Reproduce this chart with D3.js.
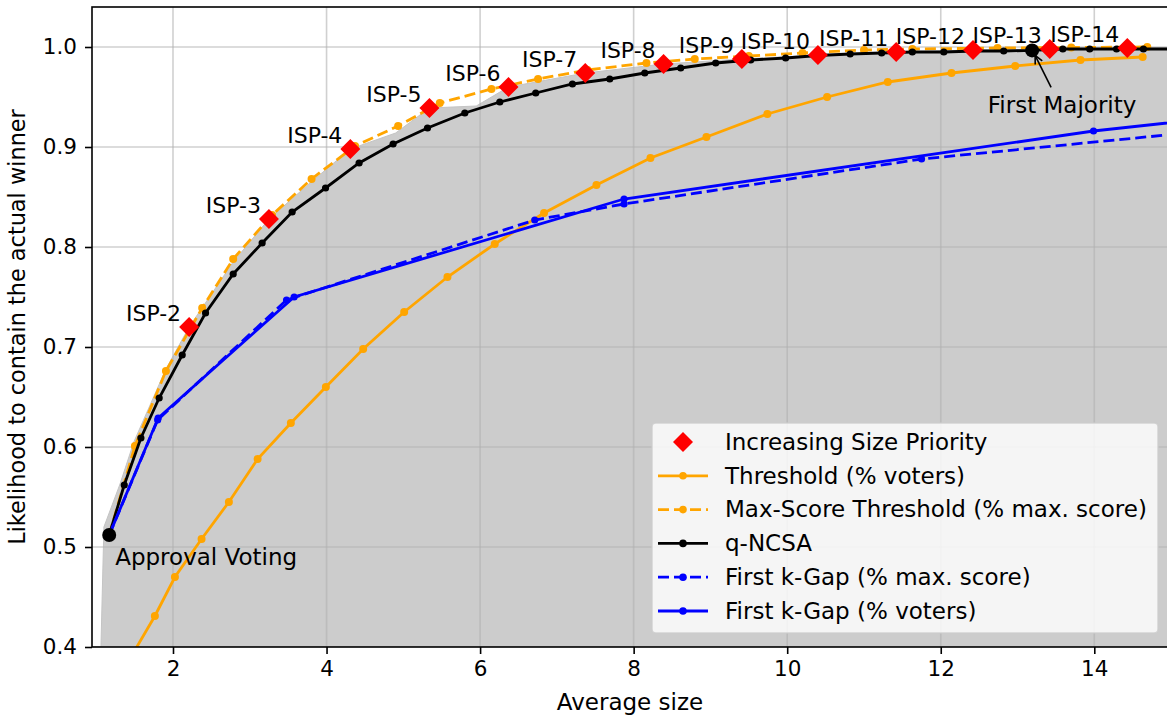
<!DOCTYPE html>
<html><head><meta charset="utf-8">
<script src="https://cdn.jsdelivr.net/npm/d3@7"></script>
<style>
body{margin:0;background:#fff}
svg{display:block}
text{font-family:"DejaVu Sans",sans-serif;fill:#000}
</style>
</head><body>
<svg id="c" width="1167" height="717"></svg>
<script>
// ---------------- data ----------------
const xTicks = [2, 4, 6, 8, 10, 12, 14];
const yTicks = [0.4, 0.5, 0.6, 0.7, 0.8, 0.9, 1.0];

const ispLabels = ["ISP-2","ISP-3","ISP-4","ISP-5","ISP-6","ISP-7","ISP-8","ISP-9","ISP-10","ISP-11","ISP-12","ISP-13","ISP-14"];
const ispX = [2.21, 3.25, 4.31, 5.34, 6.37, 7.37, 8.39, 9.41, 10.40, 11.42, 12.42, 13.42, 14.43];
const ispY = [0.720, 0.828, 0.898, 0.939, 0.960, 0.974, 0.983, 0.988, 0.992, 0.995, 0.997, 0.998, 0.999];

const thresholdX = [1.30, 1.764, 2.025, 2.372, 2.728, 3.102, 3.535, 3.991, 4.477, 5.011, 5.575, 6.191, 6.833, 7.515, 8.219, 8.948, 9.742, 10.52, 11.31, 12.14, 12.97, 13.82, 14.63];
const thresholdY = [0.370, 0.431, 0.470, 0.508, 0.545, 0.588, 0.624, 0.660, 0.698, 0.735, 0.770, 0.803, 0.834, 0.862, 0.889, 0.910, 0.933, 0.950, 0.965, 0.974, 0.981, 0.987, 0.990];

const maxScoreX = [1.169, 1.504, 1.908, 2.38, 2.784, 3.29, 3.805, 4.37, 4.932, 5.475, 6.148, 6.755, 7.40, 8.167, 8.796, 9.50, 10.20, 11.00, 11.63, 12.74, 13.70, 14.69];
const maxScoreY = [0.512, 0.601, 0.676, 0.739, 0.788, 0.832, 0.868, 0.901, 0.921, 0.944, 0.958, 0.968, 0.977, 0.984, 0.988, 0.991, 0.994, 0.997, 0.998, 0.999, 0.9995, 1.000];

const ncsaX = [1.169, 1.365, 1.582, 1.820, 2.120, 2.424, 2.784, 3.161, 3.552, 3.987, 4.424, 4.867, 5.315, 5.801, 6.257, 6.725, 7.203, 7.689, 8.145, 8.613, 9.069, 9.525, 9.980, 10.40, 10.82, 11.23, 11.63, 12.04, 12.44, 12.82, 13.19, 13.59, 13.94, 14.29, 14.64, 15.00];
const ncsaY = [0.512, 0.562, 0.609, 0.649, 0.692, 0.734, 0.773, 0.804, 0.835, 0.859, 0.884, 0.903, 0.919, 0.934, 0.945, 0.954, 0.963, 0.968, 0.974, 0.979, 0.984, 0.987, 0.989, 0.9915, 0.993, 0.994, 0.995, 0.995, 0.996, 0.996, 0.9966, 0.998, 0.998, 0.998, 0.998, 0.998];

const gapMaxX = [1.169, 1.80, 3.479, 6.712, 7.875, 11.75, 16.0];
const gapMaxY = [0.512, 0.627, 0.747, 0.827, 0.843, 0.888, 0.920];

const gapVotersX = [1.169, 1.807, 3.578, 7.875, 13.99, 16.5];
const gapVotersY = [0.512, 0.629, 0.750, 0.848, 0.916, 0.937];

const frontierX = [1.055, 1.10, 1.31, 1.49, 1.908, 2.21, 2.784, 3.25, 3.80, 4.31, 4.90, 5.34, 5.95, 6.37, 7.37, 8.39, 9.41, 10.40, 11.42, 12.42, 13.42, 14.43, 15.2];
const frontierY = [0.380, 0.520, 0.563, 0.605, 0.678, 0.720, 0.785, 0.828, 0.865, 0.898, 0.914, 0.939, 0.941, 0.960, 0.974, 0.983, 0.988, 0.992, 0.995, 0.997, 0.998, 0.999, 0.9995];

const approvalPoint = [1.169, 0.512];
const firstMajorityPoint = [13.19, 0.9966];

const legendLabels = ["Increasing Size Priority", "Threshold (% voters)", "Max-Score Threshold (% max. score)", "q-NCSA", "First k-Gap (% max. score)", "First k-Gap (% voters)"];

// ---------------- chart ----------------
const FS_TICK = 21.5, FS_ISP = 22, FS_ANN = 23, FS_LEG = 23, FS_XL = 23, FS_YL = 22.4;
const svg = d3.select("#c");
const L = 92, T = 7, R = 1168, B = 647;
const x = d3.scaleLinear().domain([0.945, 14.96]).range([L, R]);
const y = d3.scaleLinear().domain([0.4, 1.04]).range([B, T]);

const zip = (a, b) => a.map((v, i) => [v, b[i]]);

svg.append("defs").append("clipPath").attr("id", "clip")
  .append("rect").attr("x", L).attr("y", T).attr("width", R - L).attr("height", B - T);

const plot = svg.append("g").attr("clip-path", "url(#clip)");

// gray region
const fr = zip(frontierX, frontierY);
const poly = fr.concat([[frontierX[frontierX.length - 1], 0.35], [frontierX[0], 0.35]]);
plot.append("path")
  .attr("d", d3.line().x(d => x(d[0])).y(d => y(d[1]))(poly) + "Z")
  .attr("fill", "#cccccc").attr("stroke", "#c4c4c4").attr("stroke-width", 1);

// grid
const grid = plot.append("g").attr("stroke", "#b0b0b0").attr("stroke-opacity", 0.6).attr("stroke-width", 1.6);
xTicks.forEach(t => grid.append("line").attr("x1", x(t)).attr("x2", x(t)).attr("y1", T).attr("y2", B));
yTicks.forEach(t => grid.append("line").attr("x1", L).attr("x2", R).attr("y1", y(t)).attr("y2", y(t)));

const line = d3.line().x(d => x(d[0])).y(d => y(d[1]));
function series(xs, ys, color, dash, r) {
  const pts = zip(xs, ys);
  plot.append("path").attr("d", line(pts)).attr("fill", "none")
    .attr("stroke", color).attr("stroke-width", 2.8)
    .attr("stroke-dasharray", dash || null);
  plot.append("g").selectAll("circle").data(pts).join("circle")
    .attr("cx", d => x(d[0])).attr("cy", d => y(d[1])).attr("r", r).attr("fill", color);
}
series(thresholdX, thresholdY, "#ffa500", null, 4);
series(maxScoreX, maxScoreY, "#ffa500", "11,5", 4);
series(ncsaX, ncsaY, "#000000", null, 3.6);
series(gapMaxX, gapMaxY, "#0000ff", "11,5", 3.6);
series(gapVotersX, gapVotersY, "#0000ff", null, 3.6);

// ISP diamonds
const diamond = s => `M0,${-s}L${s},0L0,${s}L${-s},0Z`;
plot.append("g").selectAll("path").data(zip(ispX, ispY)).join("path")
  .attr("transform", d => `translate(${x(d[0])},${y(d[1])})`)
  .attr("d", diamond(10)).attr("fill", "#ff0000");

// big dots
[approvalPoint, firstMajorityPoint].forEach(p =>
  plot.append("circle").attr("cx", x(p[0])).attr("cy", y(p[1])).attr("r", 7).attr("fill", "#000"));

// ISP labels
svg.append("g").selectAll("text").data(ispLabels).join("text")
  .attr("x", (d, i) => x(ispX[i]) - 8).attr("y", (d, i) => y(ispY[i]) - 6)
  .attr("text-anchor", "end").attr("font-size", FS_ISP).text(d => d);

// Approval Voting label
svg.append("text").attr("x", x(approvalPoint[0]) + 6).attr("y", y(approvalPoint[1]) + 30)
  .attr("font-size", FS_ANN).text("Approval Voting");

// First Majority annotation
const fmx = x(firstMajorityPoint[0]), fmy = y(firstMajorityPoint[1]);
svg.append("text").attr("x", fmx + 30).attr("y", fmy + 63).attr("text-anchor", "middle")
  .attr("font-size", FS_ANN).text("First Majority");
const ax1 = fmx + 19, ay1 = fmy + 37, ax2 = fmx + 3, ay2 = fmy + 5;
svg.append("line").attr("x1", ax1).attr("y1", ay1).attr("x2", ax2).attr("y2", ay2)
  .attr("stroke", "#000").attr("stroke-width", 1.6);
{
  const ang = Math.atan2(ay2 - ay1, ax2 - ax1), hl = 9, ha = 0.45;
  const p1 = [ax2 - hl * Math.cos(ang - ha), ay2 - hl * Math.sin(ang - ha)];
  const p2 = [ax2 - hl * Math.cos(ang + ha), ay2 - hl * Math.sin(ang + ha)];
  svg.append("path").attr("d", `M${p1}L${ax2},${ay2}L${p2}`).attr("fill", "none")
    .attr("stroke", "#000").attr("stroke-width", 1.6);
}

// axes
const xa = svg.append("g").attr("transform", `translate(0,${B})`)
  .call(d3.axisBottom(x).tickValues(xTicks).tickSize(7).tickPadding(7).tickFormat(d3.format("d")));
const ya = svg.append("g").attr("transform", `translate(${L},0)`)
  .call(d3.axisLeft(y).tickValues(yTicks).tickSize(7).tickPadding(8).tickFormat(d3.format(".1f")));
[xa, ya].forEach(a => {
  a.select(".domain").remove();
  a.selectAll(".tick line").attr("stroke", "#000").attr("stroke-width", 1.6);
  a.selectAll(".tick text").attr("font-size", FS_TICK).attr("font-family", "DejaVu Sans").attr("fill", "#000");
});

// spines
svg.append("rect").attr("x", L).attr("y", T).attr("width", R - L).attr("height", B - T)
  .attr("fill", "none").attr("stroke", "#000").attr("stroke-width", 1.6);

// axis labels
svg.append("text").attr("x", (L + R) / 2).attr("y", 710).attr("text-anchor", "middle")
  .attr("font-size", FS_XL).text("Average size");
svg.append("text").attr("transform", `translate(25,${(T + B) / 2}) rotate(-90)`)
  .attr("text-anchor", "middle").attr("font-size", FS_YL).text("Likelihood to contain the actual winner");

// legend
const lg = svg.append("g");
lg.append("rect").attr("x", 652).attr("y", 423).attr("width", 506).attr("height", 210)
  .attr("rx", 4).attr("fill", "#ffffff").attr("fill-opacity", 0.8)
  .attr("stroke", "#cccccc").attr("stroke-opacity", 0.8).attr("stroke-width", 1.5);
const lgStyles = [
  {type: "diamond", color: "#ff0000"},
  {color: "#ffa500"},
  {color: "#ffa500", dash: "11,5"},
  {color: "#000000"},
  {color: "#0000ff", dash: "11,5"},
  {color: "#0000ff"}
];
legendLabels.forEach((lab, i) => {
  const cy = 442 + i * 33.8;
  const s = lgStyles[i];
  if (s.type === "diamond") {
    lg.append("path").attr("transform", `translate(683,${cy})`).attr("d", diamond(10)).attr("fill", s.color);
  } else {
    lg.append("line").attr("x1", 658).attr("x2", 708).attr("y1", cy).attr("y2", cy)
      .attr("stroke", s.color).attr("stroke-width", 2.8).attr("stroke-dasharray", s.dash || null);
    lg.append("circle").attr("cx", 683).attr("cy", cy).attr("r", 3.8).attr("fill", s.color);
  }
  lg.append("text").attr("x", 725).attr("y", cy).attr("dy", "0.34em").attr("font-size", FS_LEG).text(lab);
});
</script>
</body></html>
